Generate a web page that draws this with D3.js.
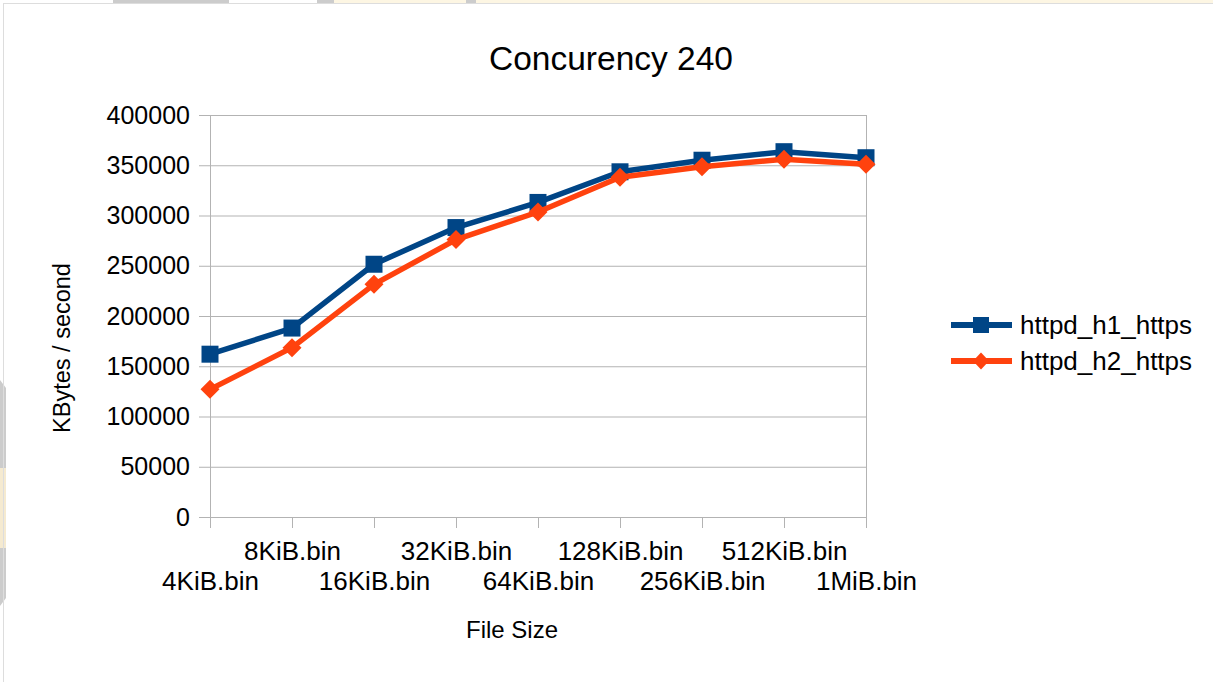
<!DOCTYPE html>
<html>
<head>
<meta charset="utf-8">
<script src="https://cdn.jsdelivr.net/npm/d3@7"></script>
<style>
  html, body { margin: 0; padding: 0; background: #ffffff; }
  svg { display: block; font-family: "Liberation Sans", Arial, sans-serif; }
</style>
</head>
<body>
<svg id="chart" width="1213" height="682"></svg>
<script>
// Throughput by file size, two server configurations
const categories = ["4KiB.bin", "8KiB.bin", "16KiB.bin", "32KiB.bin", "64KiB.bin",
                    "128KiB.bin", "256KiB.bin", "512KiB.bin", "1MiB.bin"];
const h1Values = [162000, 188000, 251500, 288000, 313000, 343500, 355000, 363500, 357500];
const h2Values = [127000, 168500, 231500, 276000, 303500, 338000, 348500, 356000, 351000];
const seriesNames = ["httpd_h1_https", "httpd_h2_https"];
const yTicks = [0, 50000, 100000, 150000, 200000, 250000, 300000, 350000, 400000];

const svg = d3.select("#chart");
const W = 1213, H = 682;
const plot = { left: 210, right: 866, top: 115, bottom: 517 };

// window chrome around the chart frame
const chrome = svg.append("g");
chrome.append("rect").attr("x", 113).attr("y", 0).attr("width", 116).attr("height", 3).attr("fill", "#cccccc");
chrome.append("rect").attr("x", 317).attr("y", 0).attr("width", 17).attr("height", 3).attr("fill", "#cccccc");
chrome.append("rect").attr("x", 334).attr("y", 0).attr("width", 132).attr("height", 3).attr("fill", "#fdf6e3");
chrome.append("rect").attr("x", 466).attr("y", 0).attr("width", 10).attr("height", 3).attr("fill", "#cccccc");
chrome.append("rect").attr("x", 476).attr("y", 0).attr("width", W - 476).attr("height", 3).attr("fill", "#fdf6e3");
chrome.append("path").attr("d", "M0,380 L6,388 L6,598 L0,606 Z").attr("fill", "#cccccc");
chrome.append("rect").attr("x", 0).attr("y", 468).attr("width", 6).attr("height", 80).attr("fill", "#f5ead0");
chrome.append("line").attr("x1", 3).attr("x2", W).attr("y1", 3.5).attr("y2", 3.5).attr("stroke", "#dddddd");
chrome.append("line").attr("x1", 3.5).attr("x2", 3.5).attr("y1", 3).attr("y2", H).attr("stroke", "#dddddd");

const x = d3.scalePoint().domain(categories).range([plot.left, plot.right]).padding(0);
const y = d3.scaleLinear().domain([0, 400000]).range([plot.bottom, plot.top]);

// horizontal grid
svg.append("g")
  .attr("transform", `translate(${plot.left},0)`)
  .call(d3.axisLeft(y).tickValues(yTicks).tickSize(-(plot.right - plot.left)).tickFormat(""))
  .call(g => g.select(".domain").remove())
  .call(g => g.selectAll("line").attr("stroke", "#b3b3b3"));

// right border of the plot
svg.append("line")
  .attr("x1", plot.right + 0.5).attr("x2", plot.right + 0.5)
  .attr("y1", plot.top).attr("y2", plot.bottom)
  .attr("stroke", "#b3b3b3");

// y axis
svg.append("g")
  .attr("transform", `translate(${plot.left},0)`)
  .call(d3.axisLeft(y).tickValues(yTicks).tickSize(11).tickPadding(9).tickFormat(d3.format("d")))
  .call(g => g.select(".domain").attr("stroke", "#b3b3b3"))
  .call(g => g.selectAll("line").attr("stroke", "#b3b3b3"))
  .call(g => g.selectAll("text").attr("fill", "#000").style("font-size", "25px")
               .style("font-family", "'Liberation Sans', Arial, sans-serif"));

// x axis with staggered labels
svg.append("g")
  .attr("transform", `translate(0,${plot.bottom})`)
  .call(d3.axisBottom(x).tickSize(11).tickSizeOuter(0))
  .call(g => g.select(".domain").attr("stroke", "#b3b3b3"))
  .call(g => g.selectAll("line").attr("stroke", "#b3b3b3"))
  .call(g => g.selectAll("text")
    .attr("fill", "#000")
    .attr("dy", null)
    .attr("y", (d, i) => i % 2 === 0 ? 73 : 43)
    .style("font-size", "26px")
    .style("font-family", "'Liberation Sans', Arial, sans-serif"));

const series = [
  { name: seriesNames[0], values: h1Values, color: "#004586", shape: d3.symbolSquare },
  { name: seriesNames[1], values: h2Values, color: "#ff420e", shape: d3.symbolDiamond }
];

const line = d3.line().x((d, i) => x(categories[i])).y(d => y(d));

function markerPath(shape) {
  return shape === d3.symbolSquare
    ? d3.symbol().type(shape).size(17 * 17)()
    : "M0,-9.5 L9.5,0 L0,9.5 L-9.5,0 Z";
}

series.forEach(s => {
  const g = svg.append("g");
  g.append("path")
    .attr("d", line(s.values))
    .attr("fill", "none")
    .attr("stroke", s.color)
    .attr("stroke-width", 5.5)
    .attr("stroke-linejoin", "round");
  g.selectAll("path.marker")
    .data(s.values)
    .join("path")
    .attr("class", "marker")
    .attr("transform", (d, i) => `translate(${x(categories[i])},${y(d)})`)
    .attr("d", markerPath(s.shape))
    .attr("fill", s.color);
});

// title
svg.append("text")
  .attr("x", 611).attr("y", 70)
  .attr("text-anchor", "middle")
  .style("font-size", "33.5px")
  .text("Concurency 240");

// axis titles
svg.append("text")
  .attr("x", 512).attr("y", 638)
  .attr("text-anchor", "middle")
  .style("font-size", "24px")
  .text("File Size");

svg.append("text")
  .attr("transform", "translate(70,348) rotate(-90)")
  .attr("text-anchor", "middle")
  .style("font-size", "23.5px")
  .text("KBytes / second");

// legend
const legend = svg.append("g");
series.forEach((s, i) => {
  const ly = 325 + i * 36;
  legend.append("line")
    .attr("x1", 951).attr("x2", 1012).attr("y1", ly).attr("y2", ly)
    .attr("stroke", s.color).attr("stroke-width", 6);
  legend.append("path")
    .attr("transform", `translate(981,${ly})`)
    .attr("d", s.shape === d3.symbolSquare ? d3.symbol().type(s.shape).size(16 * 16)() : "M0,-8.5 L8,0 L0,8.5 L-8,0 Z")
    .attr("fill", s.color);
  legend.append("text")
    .attr("x", 1020).attr("y", ly + 9)
    .style("font-size", "26px")
    .text(s.name);
});
</script>
</body>
</html>
